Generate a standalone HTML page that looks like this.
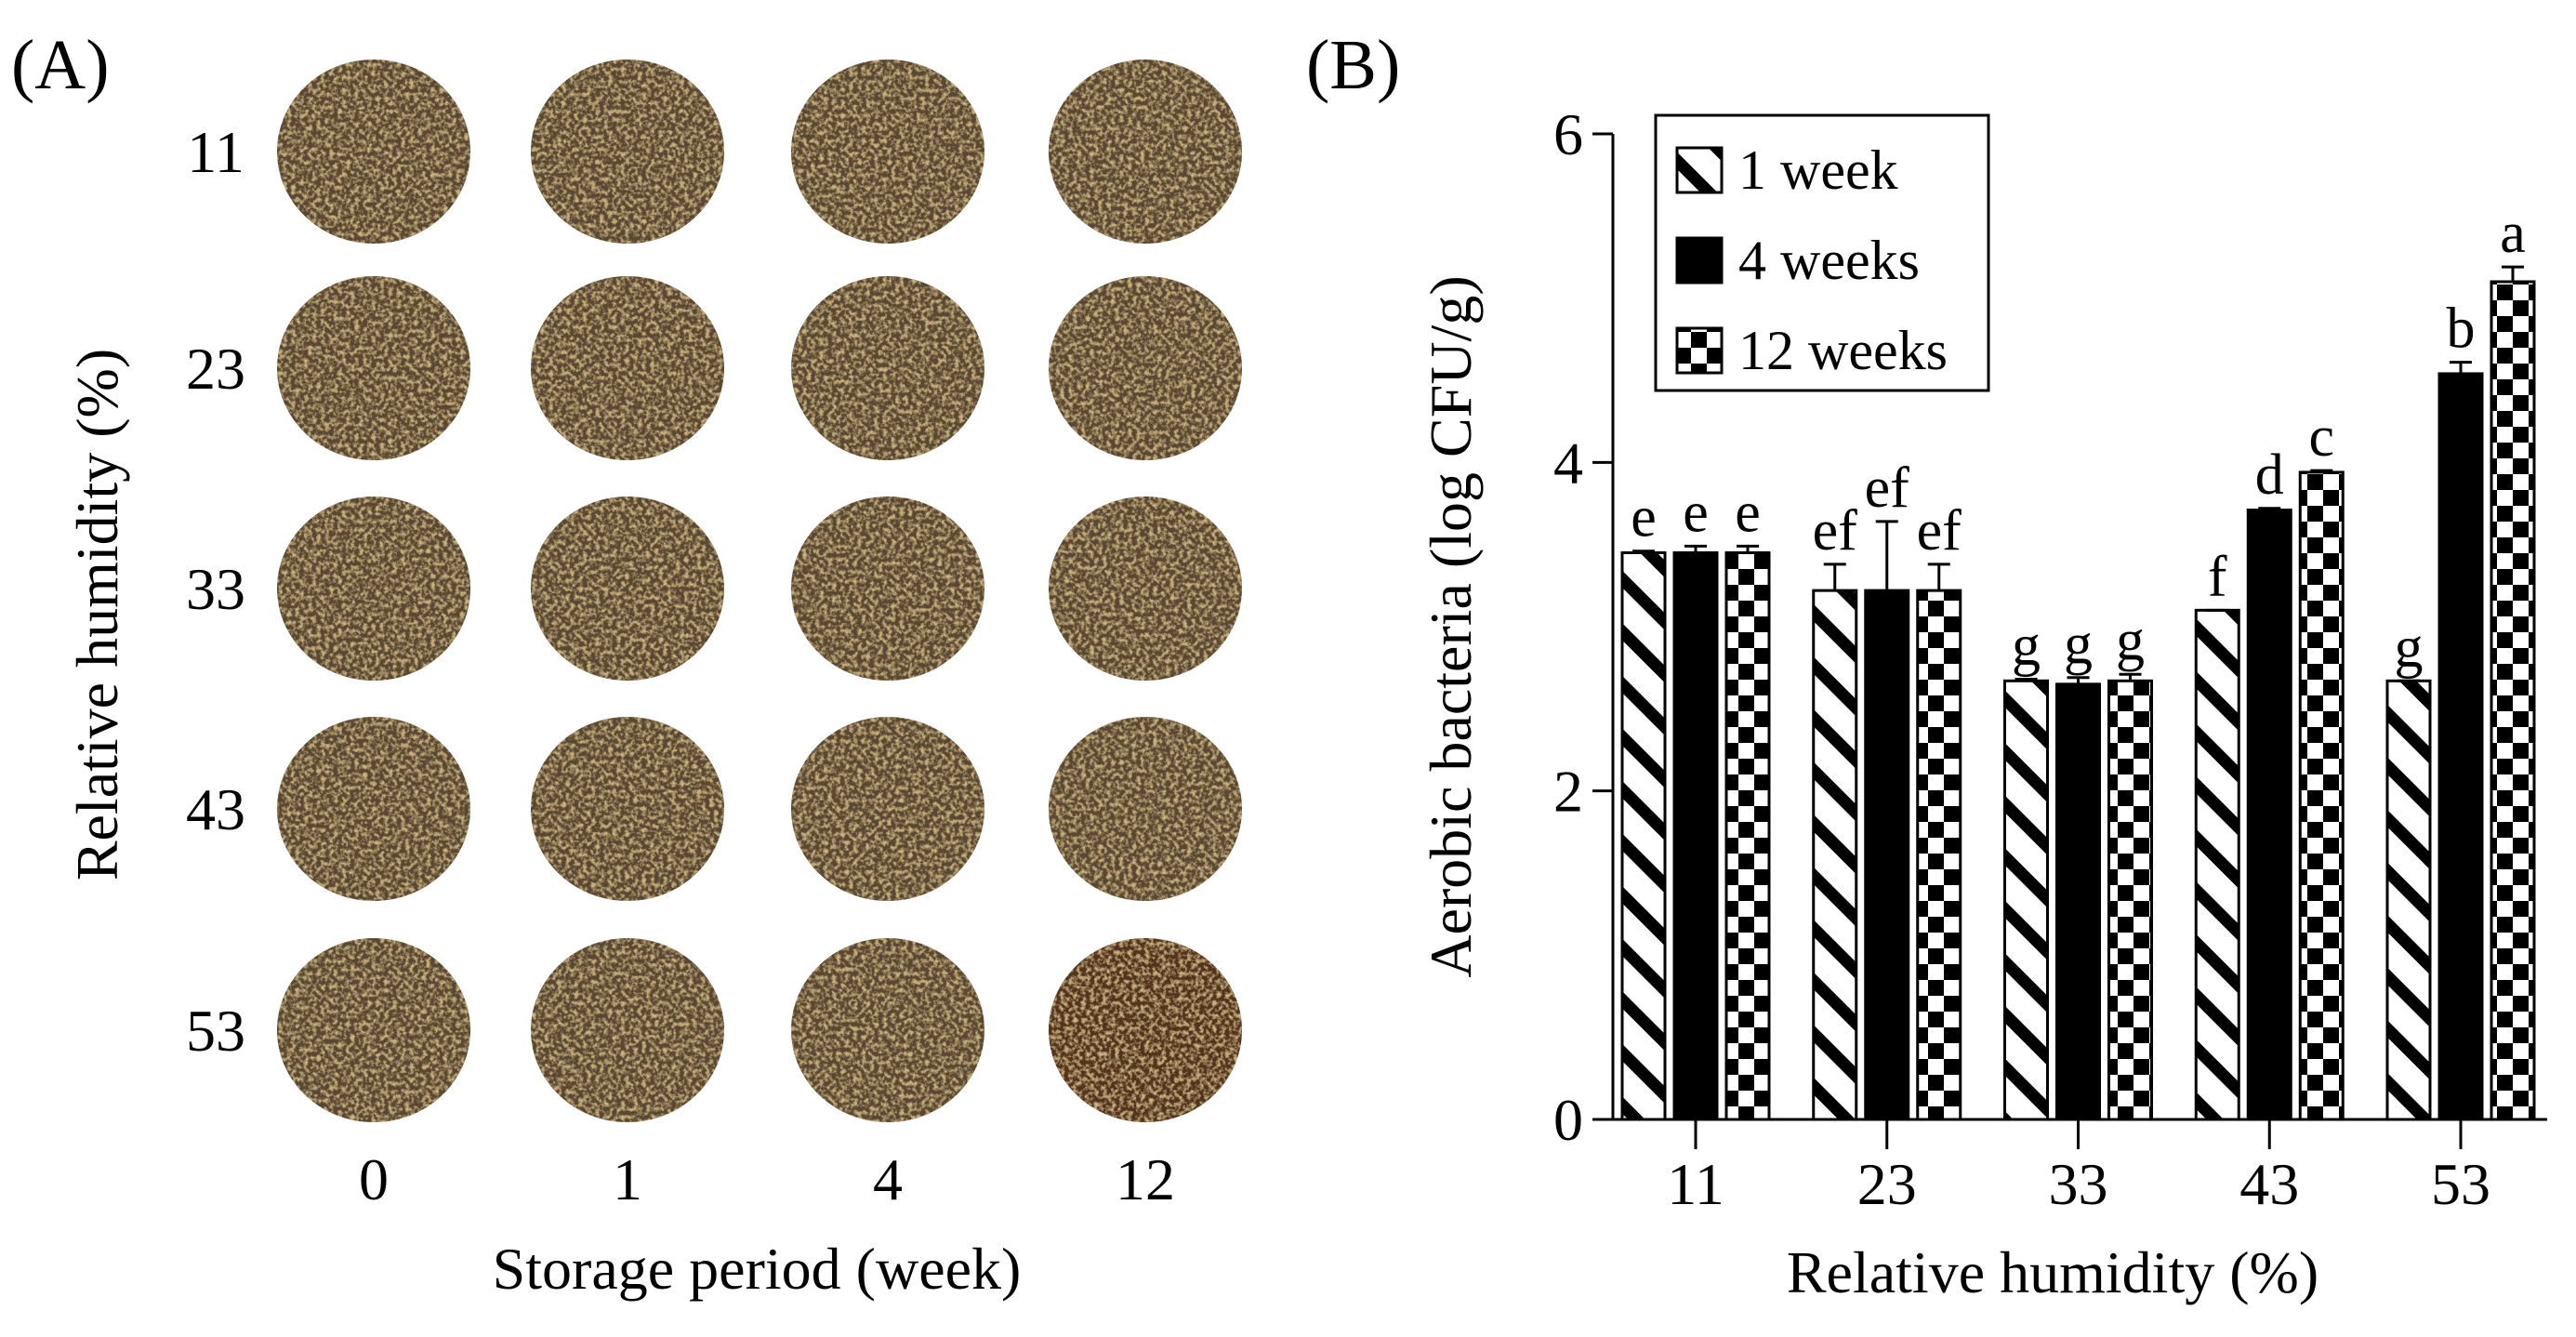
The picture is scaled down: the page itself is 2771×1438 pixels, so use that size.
<!DOCTYPE html>
<html><head><meta charset="utf-8">
<style>
html,body{margin:0;padding:0;background:#fff;}
svg text{font-family:"Liberation Serif","Times New Roman",serif;fill:#000;}
</style></head>
<body>
<svg id="fig" font-family="Liberation Serif, serif" width="2771" height="1433" viewBox="0 0 2771 1433" xmlns="http://www.w3.org/2000/svg">
<defs>
<filter id="soil" x="-5%" y="-5%" width="110%" height="110%">
<feTurbulence type="fractalNoise" baseFrequency="0.22" numOctaves="3" seed="3" result="n"/>
<feColorMatrix in="n" type="matrix" values="0 0 0 0 0.6  0 0 0 0 0.45  0 0 0 0 0.22  0 0 0 -3 1.7" result="c"/>
<feComposite in="c" in2="SourceGraphic" operator="in" result="t"/>
<feMerge><feMergeNode in="SourceGraphic"/><feMergeNode in="t"/></feMerge>
</filter>
<pattern id="stripe" patternUnits="userSpaceOnUse" width="40" height="40" patternTransform="rotate(45)">
<rect width="40" height="40" fill="#fff"/><rect width="40" height="13" fill="#000"/>
</pattern>
<pattern id="check" patternUnits="userSpaceOnUse" width="34" height="34">
<rect width="34" height="34" fill="#fff"/><rect x="0" y="0" width="17" height="17" fill="#000"/><rect x="17" y="17" width="17" height="17" fill="#000"/>
</pattern>
</defs>
<g id="panelA"></g>
<g id="panelB"></g>
</svg>
<script>
const weeksA=["0","1","4","12"];
const humidityA=["11","23","33","43","53"];
const categories=["11","23","33","43","53"];
const seriesNames=["1 week","4 weeks","12 weeks"];
const week1=[3.45,3.22,2.67,3.1,2.67];
const week4=[3.45,3.22,2.65,3.71,4.54];
const week12=[3.45,3.22,2.67,3.94,5.1];
const err1=[0.01,0.16,0.01,0.0,0.0];
const err4=[0.04,0.42,0.04,0.01,0.07];
const err12=[0.04,0.16,0.04,0.01,0.09];
const letters1=["e","ef","g","f","g"];
const letters4=["e","ef","g","d","b"];
const letters12=["e","ef","g","c","a"];
const yTicks=[0,2,4,6];

const NS="http://www.w3.org/2000/svg";
const FF='"Liberation Serif","Times New Roman",serif';
function mk(tag,attrs,parent,text){const e=document.createElementNS(NS,tag);for(const k in attrs)e.setAttribute(k,attrs[k]);if(tag==='text'){e.setAttribute('font-family',FF);}if(text!==undefined)e.textContent=text;parent.appendChild(e);return e;}

// Panel A
const A=document.getElementById('panelA');
let t=mk('text',{x:12,y:95,'font-size':76},A,'(A)');


const colX=[402,675,955,1232], rowY=[163,396,633,870,1108];
humidityA.forEach((h,r)=>{
  t=mk('text',{x:232,y:rowY[r]+22,'font-size':64,'text-anchor':'middle'},A,h);
  
  
  weeksA.forEach((w,c)=>{
    const dark=(r===4&&c===3);
    const e=mk('ellipse',{cx:colX[c],cy:rowY[r],rx:104,ry:99,fill:dark?'#55331a':'#5a4630',filter:'url(#soil)'},A);
    
    
  });
});
weeksA.forEach((w,c)=>{
  t=mk('text',{x:colX[c],y:1290,'font-size':64,'text-anchor':'middle'},A,w);
  
  
});
t=mk('text',{x:814,y:1386,'font-size':64,'text-anchor':'middle'},A,'Storage period (week)');


t=mk('text',{x:0,y:0,'font-size':64,'text-anchor':'middle',transform:'translate(126,661) rotate(-90)'},A,'Relative humidity (%)');



// Panel B
const B=document.getElementById('panelB');
t=mk('text',{x:1405,y:95,'font-size':76},B,'(B)');


const x0=1735,x1=2740,yBase=1204,yTop=144,vmax=6;
function yS(v){return yBase-(v/vmax)*(yBase-yTop);}
const g0=1824,gStep=205.75,barW=46,barGap=10;
function xC(i){return g0+i*gStep;}
let l=mk('line',{x1:x0,y1:yTop,x2:x0,y2:yBase,stroke:'#000','stroke-width':3},B);


l=mk('line',{x1:x0,y1:yBase,x2:x1,y2:yBase,stroke:'#000','stroke-width':3},B);


yTicks.forEach(v=>{
  const y=yS(v);
  const tk=mk('line',{x1:x0-22,y1:y,x2:x0,y2:y,stroke:'#000','stroke-width':3},B);
  
  
  const tl=mk('text',{x:x0-32,y:y+22,'font-size':64,'text-anchor':'end'},B,String(v));
  
  
});
const series=[week1,week4,week12], errs=[err1,err4,err12], lets=[letters1,letters4,letters12];
const fills=['url(#stripe)','#000','url(#check)'];
categories.forEach((c,i)=>{
  const cx=xC(i);
  const tk=mk('line',{x1:cx,y1:yBase,x2:cx,y2:yBase+32,stroke:'#000','stroke-width':3},B);
  
  
  const tl=mk('text',{x:cx,y:1295,'font-size':64,'text-anchor':'middle'},B,c);
  
  
  series.forEach((s,k)=>{
    const bx=cx+(k-1)*(barW+barGap)-barW/2;
    const y=yS(s[i]);
    const r=mk('rect',{x:bx,y:y,width:barW,height:yBase-y,fill:fills[k],stroke:'#000','stroke-width':3},B);
    
    
    const ye=yS(s[i]+errs[k][i]);
    const e=mk('path',{d:`M${bx+barW/2},${y} V${ye} M${bx+barW/2-12},${ye} H${bx+barW/2+12}`,stroke:'#000','stroke-width':3,fill:'none'},B);
    
    
    const lt=mk('text',{x:bx+barW/2,y:ye-16,'font-size':62,'text-anchor':'middle'},B,lets[k][i]);
    
    
  });
});
t=mk('text',{x:2208,y:1390,'font-size':64,'text-anchor':'middle'},B,'Relative humidity (%)');


t=mk('text',{x:0,y:0,'font-size':64,'text-anchor':'middle',transform:'translate(1582,674) rotate(-90)'},B,'Aerobic bacteria (log CFU/g)');


const lg=mk('g',{},B);


const lb=mk('rect',{x:1781,y:124,width:358,height:296,fill:'#fff',stroke:'#000','stroke-width':3},lg);


seriesNames.forEach((n,k)=>{
  const cy=183+k*97;
  const sw=mk('rect',{x:1804,y:cy-24,width:48,height:48,fill:fills[k],stroke:'#000','stroke-width':3},lg);
  
  
  const tx=mk('text',{x:1870,y:cy+20,'font-size':60},lg,n);
  
  
});
</script>
</body></html>
